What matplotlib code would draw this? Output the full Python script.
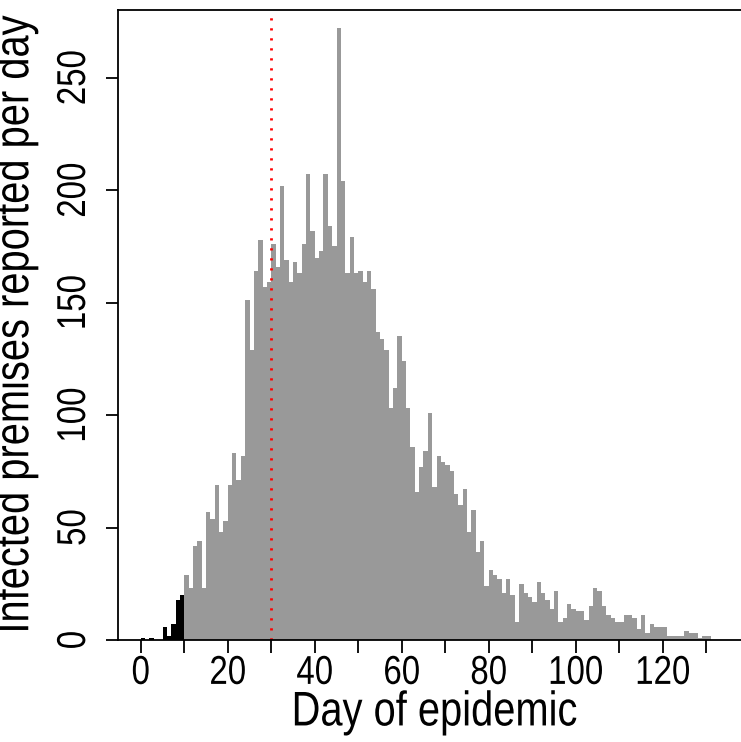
import matplotlib
matplotlib.use("Agg")
import matplotlib.pyplot as plt
from matplotlib import font_manager
from matplotlib.patheffects import AbstractPathEffect
from matplotlib.transforms import Affine2D

# daily counts of infected premises, day 0 .. 130
days = list(range(0, 131))
counts = [
    1, 0, 1, 0, 0, 6, 2, 7, 18, 20,
    29, 23, 42, 44, 23, 57, 54, 69, 48, 53,
    69, 83, 71, 82, 151, 129, 164, 178, 157, 159,
    176, 166, 202, 169, 159, 168, 163, 176, 207, 182,
    170, 173, 207, 184, 175, 272, 204, 163, 179, 163,
    164, 159, 164, 156, 137, 134, 129, 103, 112, 135,
    124, 103, 86, 66, 77, 84, 101, 68, 82, 79,
    78, 75, 65, 60, 67, 48, 58, 39, 44, 24,
    31, 29, 27, 21, 27, 20, 8, 25, 21, 19,
    17, 26, 21, 18, 14, 22, 8, 10, 16, 14,
    13, 13, 9, 15, 23, 22, 15, 11, 10, 8,
    8, 11, 11, 10, 5, 11, 3, 7, 6, 6,
    6, 2, 2, 2, 2, 4, 3, 3, 1, 2,
    2,
]
first_gray_day = 10
cutoff_day = 30

xticks = list(range(0, 131, 10))
xticklabels = [str(t) if t % 20 == 0 else "" for t in xticks]
yticks = [0, 50, 100, 150, 200, 250]


class Squeeze(AbstractPathEffect):
    """draw text narrower along its own direction (narrow font look)"""

    def __init__(self, sx):
        super().__init__()
        self.sx = sx

    def draw_path(self, renderer, gc, tpath, affine, rgbFace=None):
        ext = tpath.get_extents()
        cx = (ext.x0 + ext.x1) / 2
        t = Affine2D().translate(-cx, 0).scale(self.sx, 1).translate(cx, 0) + affine
        renderer.draw_path(gc, tpath, t, rgbFace)


def pick_font():
    for name in ["Liberation Sans Narrow", "Liberation Sans", "DejaVu Sans"]:
        try:
            font_manager.findfont(name, fallback_to_default=False)
            return name
        except Exception:
            pass
    return "DejaVu Sans"


font = pick_font()
narrow = 1.0 if "Narrow" in font else 0.82
plt.rcParams["font.family"] = [font, "DejaVu Sans"]

fig = plt.figure(figsize=(7.41, 7.42), dpi=100)
W, H = 741, 742
# plot box in pixels: left 118, right beyond image, bottom 640, top 9.5
ax = fig.add_axes([118 / W, 1 - 640 / H, 1 - 118 / W, (640 - 9.5) / H])

colors = ["black" if d < first_gray_day else "#999999" for d in days]
ax.bar(days, counts, width=1.0, align="edge", color=colors, linewidth=0)
ax.axvline(cutoff_day, color="red", lw=2, linestyle=(0, (0.8, 2.8)))

ax.set_xlim(-5.24, 138.0)
ax.set_ylim(0, 280.3)

for s in ["left", "top", "bottom"]:
    ax.spines[s].set_linewidth(1.3)
ax.spines["right"].set_visible(False)

ax.set_xticks(xticks)
ax.set_xticklabels(xticklabels)
ax.set_yticks(yticks)
ax.set_yticklabels([str(t) for t in yticks], rotation=90, va="center")
ax.tick_params(axis="both", direction="out", length=9, width=1.3, labelsize=29)
ax.tick_params(axis="x", pad=1)
ax.tick_params(axis="y", pad=9)

ax.set_xlabel("Day of epidemic", fontsize=35)
ax.set_ylabel("Infected premises reported per day", fontsize=35)
ax.xaxis.set_label_coords(0.508, -0.08)
ax.yaxis.set_label_coords(-0.128, 0.5)

sq = [Squeeze(narrow)]
for t in ax.get_xticklabels() + ax.get_yticklabels():
    t.set_path_effects(sq)
ax.xaxis.label.set_path_effects(sq)
ax.yaxis.label.set_path_effects(sq)

fig.savefig("out.png", dpi=100)
